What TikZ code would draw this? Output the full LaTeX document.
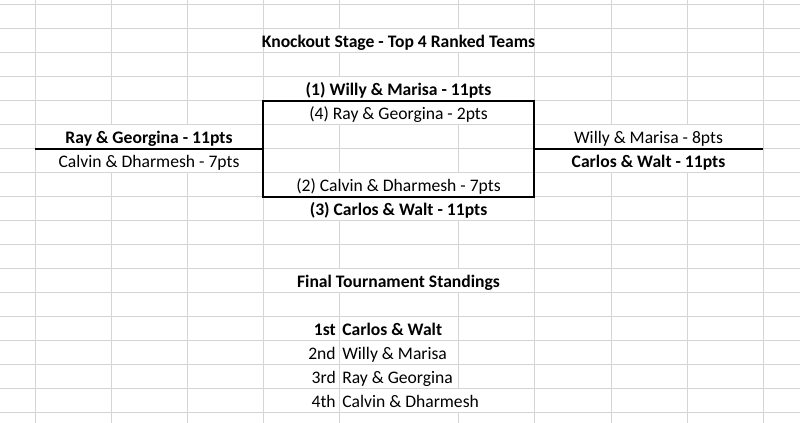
\documentclass[tikz,border=0pt]{standalone}
\usepackage{fontspec}
\setmainfont{Carlito}
\definecolor{gridgray}{RGB}{212,212,212}

\begin{document}
\begin{tikzpicture}[x=0.75pt,y=-0.75pt,
    gridline/.style={draw=gridgray,line width=0.75pt},
    bracket/.style={draw=black,line width=1.6pt},
    team/.style={anchor=base,inner sep=0pt,font=\fontsize{13.2}{16}\selectfont},
    winner/.style={team,font=\fontsize{13.2}{16}\selectfont\bfseries}]
            \useasboundingbox[fill=white](0,0)rectangle(800,423);
            % Grid rows
            \foreach \r in {0,...,17}
              \draw[gridline](0,{5+24*\r})--(800,{5+24*\r});
            % Grid columns
            \foreach \c in {35,263,534,763}
              \draw[gridline](\c,0)--(\c,423);
            \foreach \c in {111,187,611,687}{
              \draw[gridline](\c,0)--(\c,125);
              \draw[gridline](\c,173)--(\c,423);}
            \foreach \c/\a/\b in {339/0/29,339/53/77,339/125/173,339/221/269,339/293/423,
                                  458/0/29,458/53/77,458/125/173,458/221/269,458/293/389,458/413/423}
              \draw[gridline](\c,\a)--(\c,\b);
            % Knockout stage
            \node[winner](title)at(398.5,48){Knockout Stage - Top 4 Ranked Teams};
            \node[winner](seedA)at(398.5,96){(1) Willy \& Marisa - 11pts};
            \node[team](seedD)at(398.5,120){(4) Ray \& Georgina - 2pts};
            \node[team](seedB)at(398.5,192){(2) Calvin \& Dharmesh - 7pts};
            \node[winner](seedC)at(398.5,216){(3) Carlos \& Walt - 11pts};
            % Left match
            \node[winner](rayG)at(149,144){Ray \& Georgina - 11pts};
            \node[team](calvinD)at(149,168){Calvin \& Dharmesh - 7pts};
            % Right match
            \node[team](willyM)at(648.5,144){Willy \& Marisa - 8pts};
            \node[winner](carlosW)at(648.5,168){Carlos \& Walt - 11pts};
            % Brackets
            \coordinate(boxTL)at(263,101);
            \coordinate(boxTR)at(534,101);
            \coordinate(boxBR)at(534,197);
            \coordinate(boxBL)at(263,197);
            \coordinate(leftEnd)at(35,149);
            \coordinate(leftMid)at(263,149);
            \coordinate(rightMid)at(534,149);
            \coordinate(rightEnd)at(763,149);
            \draw[bracket](boxTL)--(boxTR)--(boxBR)--(boxBL)--cycle;
            \draw[bracket](leftEnd)--(leftMid);
            \draw[bracket](rightMid)--(rightEnd);
            % Final standings
            \node[winner](standings)at(398.5,288){Final Tournament Standings};
            \node[winner,anchor=base east](placeA)at(336,336){1st};
            \node[winner,anchor=base west](teamA)at(342,336){Carlos \& Walt};
            \node[team,anchor=base east](placeB)at(336,360){2nd};
            \node[team,anchor=base west](teamB)at(342,360){Willy \& Marisa};
            \node[team,anchor=base east](placeC)at(336,384){3rd};
            \node[team,anchor=base west](teamC)at(342,384){Ray \& Georgina};
            \node[team,anchor=base east](placeD)at(336,408){4th};
            \node[team,anchor=base west](teamD)at(342,408){Calvin \& Dharmesh};
\end{tikzpicture}
\end{document}
